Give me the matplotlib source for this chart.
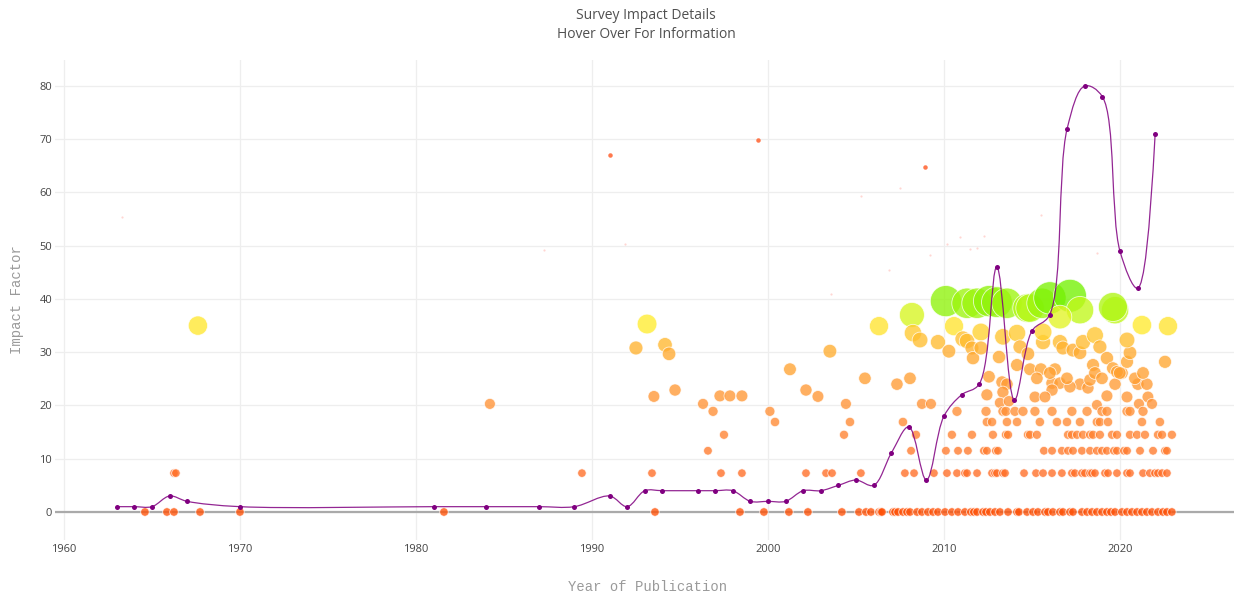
import numpy as np
import matplotlib
matplotlib.use("Agg")
import matplotlib.pyplot as plt
from matplotlib.colors import LinearSegmentedColormap
from matplotlib.path import Path
from matplotlib.patches import PathPatch

# yearly average impact (purple spline)
avg_years = [1963, 1964, 1965, 1966, 1967, 1970, 1981, 1984, 1987, 1989, 1991, 1992,
             1993, 1994, 1996, 1997, 1998, 1999, 2000, 2001, 2002, 2003, 2004, 2005,
             2006, 2007, 2008, 2009, 2010, 2011, 2012, 2013, 2014, 2015, 2016, 2017,
             2018, 2019, 2020, 2021, 2022]
avg_impact = [1, 1, 1, 3, 2, 1, 1, 1, 1, 1, 3, 1,
              4, 4, 4, 4, 4, 2, 2, 2, 4, 4, 5, 6,
              5, 11, 16, 6, 18, 22, 24, 46, 21, 34, 37, 72,
              80, 78, 49, 42, 71]

# surveys that sit on fixed impact levels
if_zero_years = [1964.60, 1965.85, 1966.25, 1967.73, 1970.00, 1981.59, 1993.58, 1998.41,
                 1999.77, 2001.19, 2002.27, 2004.20, 2005.17, 2005.57, 2005.85, 2006.31,
                 2006.42, 2006.48, 2007.10, 2007.22, 2007.39, 2007.67, 2007.90, 2008.07,
                 2008.47, 2008.75, 2009.09, 2009.38, 2009.66, 2010.06, 2010.45, 2010.80,
                 2011.19, 2011.53, 2011.70, 2011.88, 2012.22, 2012.39, 2012.61, 2012.90,
                 2013.18, 2013.64, 2014.15, 2014.26, 2014.72, 2015.06, 2015.34, 2015.74,
                 2015.91, 2016.19, 2016.59, 2016.76, 2017.16, 2017.33, 2017.84, 2018.13,
                 2018.41, 2018.69, 2018.98, 2019.26, 2019.49, 2019.72, 2020.11, 2020.40,
                 2020.68, 2020.97, 2021.25, 2021.53, 2021.82, 2022.16, 2022.44, 2022.67,
                 2022.95]
if_7_years = [1966.25, 1966.36, 1989.43, 1993.41, 1997.33, 1998.52, 2002.16, 2003.30,
              2003.64, 2005.28, 2007.78, 2008.30, 2009.43, 2010.17, 2010.74, 2011.19,
              2011.31, 2011.88, 2012.73, 2012.90, 2013.01, 2013.35, 2013.47, 2014.55,
              2015.23, 2015.63, 2016.14, 2016.70, 2017.27, 2017.44, 2017.84, 2018.01,
              2018.30, 2018.41, 2018.58, 2019.15, 2019.32, 2019.83, 2020.40, 2020.57,
              2021.31, 2021.70, 2021.99, 2022.16, 2022.39, 2022.67]
if_11_years = [1996.59, 2008.13, 2010.11, 2010.80, 2011.36, 2012.27, 2012.44, 2012.95,
               2013.07, 2015.68, 2016.14, 2016.70, 2017.05, 2017.33, 2017.84, 2018.30,
               2018.69, 2018.98, 2019.26, 2019.66, 2019.83, 2020.23, 2020.40, 2021.14,
               2021.88, 2022.56, 2022.67]
if_14_years = [1997.50, 2004.32, 2008.41, 2010.45, 2011.59, 2012.78, 2013.52, 2013.64,
               2014.77, 2014.89, 2015.28, 2017.05, 2017.27, 2017.56, 2017.90, 2018.30,
               2018.47, 2018.86, 2019.55, 2019.83, 2020.57, 2020.97, 2021.42, 2022.16,
               2022.39, 2022.95]
if_17_years = [2000.40, 2004.66, 2007.67, 2012.44, 2012.73, 2013.58, 2014.15, 2015.45,
               2016.42, 2016.99, 2017.73, 2018.69, 2018.86, 2019.32, 2021.25, 2022.27]
if_19_years = [1996.88, 2000.11, 2010.74, 2012.39, 2013.35, 2013.52, 2014.03, 2014.49,
               2015.17, 2016.14, 2017.27, 2018.13, 2018.98, 2019.26, 2020.40, 2020.57,
               2021.31]
level_values = [0.0, 7.3, 11.5, 14.5, 16.9, 18.9]

# remaining surveys
other_years = [1967.61, 1984.20, 1992.50, 1993.13, 1993.52, 1994.15, 1994.38, 1994.72,
               1996.31, 1997.27, 1997.84, 1998.52, 2001.25, 2002.16, 2002.84, 2003.52,
               2004.43, 2005.51, 2006.31, 2007.33, 2008.07, 2008.18, 2008.24, 2008.64,
               2009.66, 2010.28, 2008.75, 2009.26, 2010.11, 2010.57, 2011.31, 2011.88,
               2011.08, 2011.31, 2011.59, 2011.65, 2012.10, 2012.10, 2012.56, 2013.01,
               2013.58, 2013.13, 2012.56, 2013.30, 2013.58, 2013.35, 2012.44, 2013.18,
               2013.69, 2013.35, 2014.15, 2014.32, 2014.15, 2014.77, 2014.72, 2014.89,
               2015.57, 2016.02, 2017.16, 2017.73, 2016.59, 2015.63, 2015.63, 2014.89,
               2015.51, 2016.31, 2015.17, 2015.28, 2016.14, 2016.59, 2016.59, 2016.76,
               2017.33, 2017.73, 2017.90, 2018.58, 2018.86, 2019.26, 2018.47, 2019.60,
               2020.11, 2020.40, 2020.57, 2020.40, 2019.72, 2019.60, 2021.25, 2022.73,
               2022.56, 2017.73, 2018.18, 2019.72, 2021.02, 2021.53, 2020.40, 2021.59,
               2019.26, 2018.69, 2021.08, 2021.82, 2016.14, 2017.16, 2015.74, 2016.02,
               2016.99, 2018.30, 2018.58, 2018.98, 2019.83, 2019.99, 2020.85, 2021.31]
other_impact = [35.0, 20.3, 30.8, 35.3, 21.7, 31.4, 29.7, 22.9,
                20.3, 21.8, 21.8, 21.8, 26.8, 22.9, 21.7, 30.2,
                20.3, 25.1, 34.9, 24.0, 25.1, 37.0, 33.6, 32.3,
                31.9, 30.2, 20.3, 20.3, 39.6, 34.9, 39.2, 39.2,
                32.5, 32.1, 30.8, 28.9, 33.8, 30.8, 39.6, 39.4,
                39.2, 29.1, 25.4, 24.4, 24.0, 22.5, 22.0, 20.5,
                20.8, 32.9, 33.6, 31.0, 27.6, 29.7, 38.3, 38.3,
                39.2, 40.2, 40.6, 37.9, 36.6, 31.9, 33.8, 26.8,
                26.8, 26.8, 21.6, 25.1, 24.2, 24.2, 31.9, 30.8,
                30.4, 29.9, 31.9, 33.2, 31.0, 28.9, 27.6, 27.0,
                26.1, 28.2, 29.9, 32.3, 37.9, 38.5, 35.1, 34.9,
                28.2, 24.0, 23.3, 24.0, 24.0, 24.0, 21.6, 21.6,
                21.8, 20.1, 20.3, 20.3, 22.9, 23.5, 21.6, 26.1,
                25.1, 24.8, 26.1, 25.1, 26.3, 26.1, 25.1, 26.1]

# small markers high up
small_years = [1991.02, 1999.43, 2008.90]
small_impact = [67.0, 69.9, 64.7]
faint_years = [1963.30, 1987.30, 1991.90, 2005.30, 2007.50, 2010.20, 2010.90, 2011.50,
               2011.90, 2012.30, 2015.50, 2009.20, 2018.70, 2003.60, 2006.90]
faint_impact = [55.4, 49.2, 50.3, 59.3, 60.9, 50.3, 51.6, 49.4,
                49.6, 51.8, 55.8, 48.2, 48.6, 40.9, 45.5]

# collect everything
xs = list(other_years)
ys = list(other_impact)
for lvl, yrs in zip(level_values, [if_zero_years, if_7_years, if_11_years,
                                   if_14_years, if_17_years, if_19_years]):
    xs += yrs
    ys += [lvl] * len(yrs)
xs = np.array(xs)
ys = np.array(ys)

# colour / size scales (style only)
c_nodes = [0, 8, 20, 30, 33.5, 35.5, 38, 41]
c_cols = ['#ff5208', '#ff7028', '#ff9236', '#ffab30', '#ffc830', '#fff030', '#c0f818', '#6af000']
cmap = LinearSegmentedColormap.from_list('imp', list(zip(np.array(c_nodes) / 41, c_cols)))
d_nodes = [0, 10, 18, 22, 28, 31, 34, 35.5, 37, 38.5, 40.5]
d_px = [8.5, 8.5, 9.5, 12, 13, 14, 18, 20, 25, 29, 33]
diam = np.interp(ys, d_nodes, d_px)
sizes = (diam * 0.72) ** 2

fig = plt.figure(figsize=(12.34, 5.92), dpi=100)
ax = fig.add_axes([55 / 1234, 52 / 592, 1 - 55 / 1234, 480 / 592])

ax.set_xlim(1959.49, 2026.48)
ax.set_ylim(-5.26, 84.88)
ax.set_xticks(range(1960, 2021, 10))
ax.set_yticks(range(0, 81, 10))
ax.grid(True, color='#eeeeee', lw=0.9, zorder=0)
ax.set_axisbelow(True)
for s in ax.spines.values():
    s.set_visible(False)
ax.axhline(0, color='#aaaaaa', lw=1.6, zorder=1)
ax.tick_params(axis='x', length=0, labelsize=8, labelcolor='#444444', pad=3)
ax.tick_params(axis='y', length=0, labelsize=8, labelcolor='#444444', pad=2)
for lab in ax.get_xticklabels() + ax.get_yticklabels():
    lab.set_family('Open Sans')

ax.scatter(xs, ys, s=sizes, c=ys / 41, cmap=cmap, vmin=0, vmax=1, alpha=0.78,
           edgecolors='white', linewidths=0.6, zorder=3)
ax.scatter(small_years, small_impact, s=(4.5 * 0.72) ** 2, color='#ff6a3a', alpha=0.9,
           linewidths=0, zorder=3)
ax.scatter(faint_years, faint_impact, s=(2.2 * 0.72) ** 2, color='#ff8a80', alpha=0.35,
           linewidths=0, zorder=3)

# plotly-like spline through yearly averages
sx, sy = 17.6, 5.325
pts = np.column_stack([np.array(avg_years) * sx, np.array(avg_impact) * sy])


def tangent(p0, p1, p2):
    d1 = p0 - p1
    d2 = p2 - p1
    a1 = np.hypot(*d1) ** 0.5
    a2 = np.hypot(*d2) ** 0.5
    num = a2 * a2 * d1 - a1 * a1 * d2
    return p1 + num / (3 * a2 * (a1 + a2)), p1 - num / (3 * a1 * (a1 + a2))


tans = [tangent(pts[i - 1], pts[i], pts[i + 1]) for i in range(1, len(pts) - 1)]
verts = [pts[0], tans[0][0], pts[1]]
codes = [Path.MOVETO, Path.CURVE3, Path.CURVE3]
for i in range(2, len(pts) - 1):
    verts += [tans[i - 2][1], tans[i - 1][0], pts[i]]
    codes += [Path.CURVE4] * 3
verts += [tans[-1][1], pts[-1]]
codes += [Path.CURVE3] * 2
verts = np.array(verts) / np.array([sx, sy])
ax.add_patch(PathPatch(Path(verts, codes), fill=False, edgecolor='#800080', lw=0.9,
                       alpha=0.85, zorder=4))
ax.scatter(avg_years, avg_impact, s=(5 * 0.72) ** 2, color='#800080', linewidths=0, zorder=5)

fig.text(648 / 1234, 1 - 587 / 592, 'Year of Publication', family='Liberation Mono',
         fontsize=10, color='#9a9a9a', ha='center', va='center')
fig.text(17 / 1234, 1 - 300 / 592, 'Impact Factor', family='Liberation Mono',
         fontsize=10, color='#9a9a9a', ha='center', va='center', rotation=90)
fig.text(646 / 1234, 1 - 25 / 592, 'Survey Impact Details\nHover Over For Information',
         ha='center', va='center', family='Open Sans', fontsize=10, color='#505050',
         linespacing=1.3)

fig.savefig('out.png', dpi=100)
